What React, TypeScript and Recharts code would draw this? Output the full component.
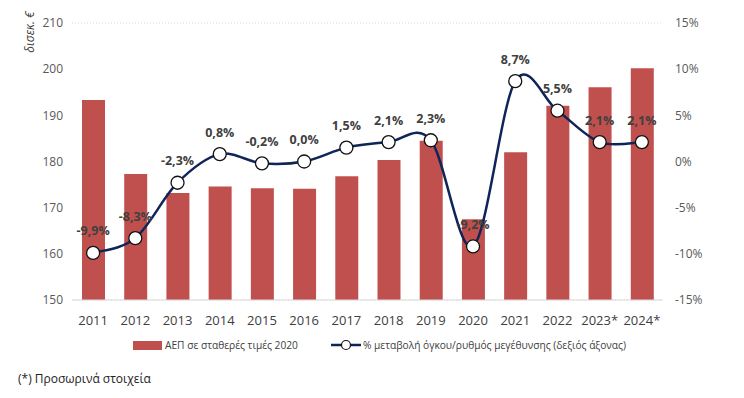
import { ComposedChart, Bar, Line, XAxis, YAxis, CartesianGrid, LabelList } from "recharts";

const years = ["2011", "2012", "2013", "2014", "2015", "2016", "2017", "2018", "2019", "2020", "2021", "2022", "2023*", "2024*"];
const gdp = [193.3, 177.3, 173.2, 174.6, 174.2, 174.1, 176.8, 180.3, 184.5, 167.5, 182.0, 192.1, 196.1, 200.2];
const growth = [-9.9, -8.3, -2.3, 0.8, -0.2, 0.0, 1.5, 2.1, 2.3, -9.2, 8.7, 5.5, 2.1, 2.1];
const leftTicks = [150, 160, 170, 180, 190, 200, 210];
const rightTicks = [-15, -10, -5, 0, 5, 10, 15];

const data = years.map((year, i) => ({ year, gdp: gdp[i], growth: growth[i] }));

const FONT = "'Open Sans', 'Noto Sans', sans-serif";
const BAR = "#c0504d";
const NAVY = "#0f2458";

// catmull-rom style smoothing, closer to Excel's smoothed line than monotone
function smooth(context: any) {
  let pts: number[][] = [];
  return {
    areaStart() {},
    areaEnd() {},
    lineStart() { pts = []; },
    point(x: number, y: number) { pts.push([+x, +y]); },
    lineEnd() {
      const n = pts.length;
      if (!n) return;
      context.moveTo(pts[0][0], pts[0][1]);
      for (let i = 0; i < n - 1; i++) {
        const p0 = pts[i > 0 ? i - 1 : i];
        const p1 = pts[i];
        const p2 = pts[i + 1];
        const p3 = pts[i + 2 < n ? i + 2 : i + 1];
        context.bezierCurveTo(
          p1[0] + (p2[0] - p0[0]) / 6, p1[1] + (p2[1] - p0[1]) / 6,
          p2[0] - (p3[0] - p1[0]) / 6, p2[1] - (p3[1] - p1[1]) / 6,
          p2[0], p2[1]
        );
      }
    },
  };
}

const fmt = (v: number) => v.toFixed(1).replace(".", ",") + "%";

const GrowthLabel = (props: any) => {
  const { x, y, value } = props;
  return (
    <text x={x} y={y - 22} textAnchor="middle" dominantBaseline="central"
      fontFamily={FONT} fontSize={12.5} fontWeight={700} fill="#404040">
      {fmt(value)}
    </text>
  );
};

export default function App() {
  return (
    <div style={{ position: "absolute", left: 0, top: 0, width: 744, height: 398, background: "#fff", fontFamily: FONT }}>
      <ComposedChart width={744} height={398} data={data} margin={{ top: 23, right: 21, bottom: 68, left: 22 }}>
        <CartesianGrid vertical={false} stroke="#d9d9d9" strokeDasharray="1 2" />
        <XAxis dataKey="year" height={30} tickLine={false} axisLine={{ stroke: "#d9d9d9" }} interval={0}
          tick={{ fontFamily: FONT, fontSize: 13, fill: "#404040" }} tickMargin={10} />
        <YAxis yAxisId="l" domain={[150, 210]} ticks={leftTicks} width={50} axisLine={false} tickLine={false}
          tickSize={0} tickMargin={9} tick={{ fontFamily: FONT, fontSize: 12, fill: "#595959" }} />
        <YAxis yAxisId="r" orientation="right" domain={[-15, 15]} ticks={rightTicks} width={60} axisLine={false}
          tickLine={false} tickSize={0} tickMargin={12} tickFormatter={(v: number) => v + "%"}
          tick={{ fontFamily: FONT, fontSize: 12, fill: "#595959", textAnchor: "start" }} />
        <Bar yAxisId="l" dataKey="gdp" fill={BAR} barSize={23} isAnimationActive={false} />
        <Line yAxisId="r" dataKey="growth" type={smooth as any} stroke={NAVY} strokeWidth={2.5}
          dot={{ r: 6.5, fill: "#fff", stroke: "#111", strokeWidth: 1.3 }} activeDot={false} isAnimationActive={false}>
          <LabelList dataKey="growth" content={GrowthLabel} />
        </Line>
      </ComposedChart>

      <svg width={40} height={70} style={{ position: "absolute", left: 10, top: 0 }}>
        <text x={19} y={32} transform="rotate(-90 19 32)" textAnchor="middle" dominantBaseline="central"
          fontFamily={FONT} fontSize={12} fontStyle="italic" fill="#404040">
          δισεκ. €
        </text>
      </svg>

      <div style={{ position: "absolute", left: 133, top: 338, display: "flex", alignItems: "center", fontSize: 10.2, color: "#404040", whiteSpace: "nowrap" }}>
        <span style={{ display: "inline-block", width: 29, height: 9, background: BAR, marginRight: 3 }} />
        <span>ΑΕΠ σε σταθερές τιμές 2020</span>
        <svg width={30} height={14} style={{ marginLeft: 33, marginRight: 2 }}>
          <line x1={0} y1={7} x2={30} y2={7} stroke={NAVY} strokeWidth={2.5} />
          <circle cx={15} cy={7} r={4.5} fill="#fff" stroke="#111" strokeWidth={1.2} />
        </svg>
        <span>% μεταβολή όγκου/ρυθμός μεγέθυνσης (δεξιός άξονας)</span>
      </div>

      <div style={{ position: "absolute", left: 18, top: 370, fontSize: 12, color: "#222", whiteSpace: "nowrap" }}>
        (*) Προσωρινά στοιχεία
      </div>
    </div>
  );
}
